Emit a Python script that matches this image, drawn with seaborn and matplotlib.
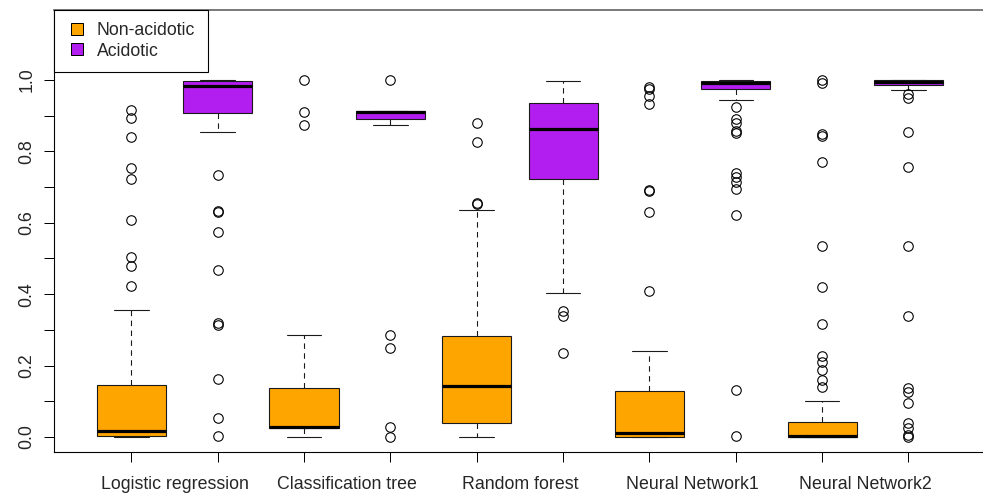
import itertools

import matplotlib
matplotlib.use("Agg")
import matplotlib.pyplot as plt
import numpy as np
import pandas as pd
import seaborn as sns
from matplotlib.lines import Line2D

# Predicted probability of acidosis per model, split by true outcome
models = ["Logistic regression", "Classification tree", "Random forest",
          "Neural Network1", "Neural Network2"]
classes = ["Non-acidotic", "Acidotic"]

# Box summaries, ordered model by model (non-acidotic, acidotic)
whisker_low = [0.000, 0.854, 0.000, 0.873, 0.000, 0.402, 0.000, 0.943, 0.000, 0.972]
q1 = [0.003, 0.907, 0.026, 0.891, 0.040, 0.722, 0.001, 0.974, 0.000, 0.986]
median = [0.017, 0.983, 0.029, 0.911, 0.143, 0.862, 0.010, 0.991, 0.003, 0.994]
q3 = [0.146, 0.997, 0.136, 0.914, 0.284, 0.936, 0.129, 0.998, 0.041, 1.000]
whisker_high = [0.355, 1.000, 0.285, 0.914, 0.635, 0.996, 0.242, 1.000, 0.100, 1.000]

outliers = [
    [0.916, 0.894, 0.839, 0.754, 0.723, 0.609, 0.505, 0.480, 0.424],
    [0.734, 0.634, 0.631, 0.573, 0.469, 0.318, 0.315, 0.162, 0.052, 0.003],
    [0.999, 0.911, 0.873],
    [0.999, 0.285, 0.248, 0.029, 0.000],
    [0.880, 0.825, 0.656, 0.653],
    [0.354, 0.339, 0.234],
    [0.981, 0.975, 0.955, 0.933, 0.692, 0.690, 0.629, 0.409],
    [0.924, 0.890, 0.880, 0.857, 0.852, 0.739, 0.729, 0.715, 0.694, 0.621,
     0.131, 0.003],
    [1.000, 0.991, 0.849, 0.843, 0.770, 0.536, 0.421, 0.317, 0.227, 0.211,
     0.188, 0.160, 0.141],
    [0.962, 0.949, 0.854, 0.755, 0.536, 0.340, 0.136, 0.127, 0.094, 0.040,
     0.026, 0.005, 0.001],
]

y_ticks = [0.0, 0.1, 0.2, 0.3, 0.4, 0.5, 0.6, 0.7, 0.8, 0.9, 1.0]

ORANGE = "#FFA500"
PURPLE = "#B31EF0"
EDGE = "#1a1a1a"

# Expand each summary into a sample whose quartiles/whiskers reproduce it
REP = 200
rows = []
for i, (m, c) in enumerate(itertools.product(models, classes)):
    vals = (outliers[i] + [whisker_low[i], whisker_high[i]]
            + [q1[i]] * REP + [median[i]] * REP + [q3[i]] * REP)
    rows.extend((m, c, v) for v in vals)
df = pd.DataFrame(rows, columns=["model", "outcome", "prob"])

sns.set_theme(style="ticks")
plt.rcParams["font.family"] = ["Liberation Sans", "DejaVu Sans"]

W, H = 983, 495
fig = plt.figure(figsize=(W / 100, H / 100), dpi=100)
fig.patch.set_facecolor("white")
ax = fig.add_axes([53.6 / W, 43 / H, 932.6 / W, 442 / H])

px = 0.72  # one pixel in points
sns.boxplot(
    data=df, x="model", y="prob", hue="outcome",
    order=models, hue_order=classes, palette=[ORANGE, PURPLE],
    saturation=1, width=1.0, gap=0.2, whis=1.5,
    linecolor=EDGE, linewidth=1.1 * px, fliersize=9.5 * px,
    flierprops=dict(marker="o", markerfacecolor="none",
                    markeredgecolor="black", markeredgewidth=1.1 * px),
    medianprops=dict(color="black", linewidth=3.2 * px),
    whiskerprops=dict(color=EDGE, linestyle=(0, (5, 4))),
    capprops=dict(color=EDGE),
    legend=False, ax=ax,
)

ax.set_xlim(-0.7, 4.7)
ax.set_ylim(-0.042, 1.196)
ax.set_xlabel("")
ax.set_ylabel("")
ax.set_facecolor("white")

# Tick marks at every box; names centred under each pair
box_pos = [i + d for i in range(len(models)) for d in (-0.25, 0.25)]
ax.set_xticks(box_pos)
ax.set_xticklabels([""] * len(box_pos))
ax.set_xticks(range(len(models)), minor=True)
ax.set_xticklabels(models, minor=True, fontsize=12.8)
ax.tick_params(axis="x", which="major", length=7.2, width=px, color="black")
ax.tick_params(axis="x", which="minor", length=0, pad=17)

ax.set_yticks(y_ticks)
ax.set_yticklabels([f"{v:.1f}" if k % 2 == 0 else "" for k, v in enumerate(y_ticks)],
                   rotation=90, va="center", fontsize=12.8)
ax.tick_params(axis="y", length=7.2, width=px, color="black", pad=6)

for side in ["left", "bottom", "right"]:
    ax.spines[side].set_color("black")
    ax.spines[side].set_linewidth(1.1 * px)
ax.spines["top"].set_color("#6e6e6e")
ax.spines["top"].set_linewidth(1.8 * px)

handles = [
    Line2D([], [], marker="s", linestyle="none", markersize=9,
           markerfacecolor=col, markeredgecolor="black", markeredgewidth=1.0 * px)
    for col in (ORANGE, PURPLE)
]
leg = ax.legend(handles, classes, loc="upper left", bbox_to_anchor=(0, 1),
                borderaxespad=0, fontsize=12.7, frameon=True, fancybox=False,
                borderpad=0.7, labelspacing=0.18, handlelength=1.2,
                handletextpad=0.55)
leg.get_frame().set_edgecolor("black")
leg.get_frame().set_linewidth(1.1 * px)
leg.get_frame().set_alpha(1)

fig.savefig("out.png", dpi=100, facecolor="white")
